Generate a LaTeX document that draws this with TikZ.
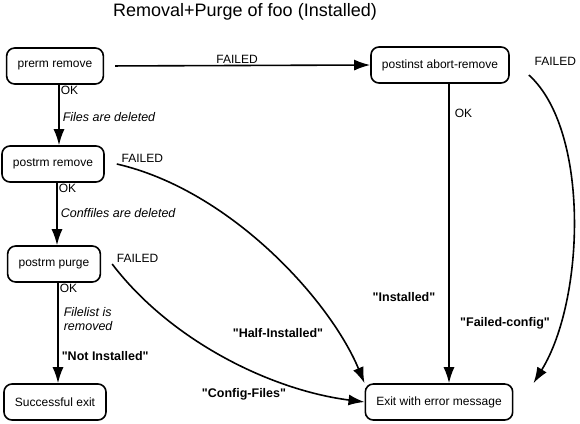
\documentclass[tikz,border=0pt]{standalone}
\usepackage{fontspec}
\setmainfont{Liberation Sans}[Ligatures=TeXOff]
\usetikzlibrary{arrows.meta}

\tikzset{
    state/.style={draw, line width=1.6pt, rounded corners=8pt,
        minimum height=36pt, inner xsep=11pt,
        font=\fontsize{12}{14}\selectfont},
    flow/.style={line width=1.6pt, -{Latex[length=16pt,width=11pt]}},
    lbl/.style={inner sep=1pt, font=\fontsize{12}{14}\selectfont},
    note/.style={inner sep=1pt, align=left,
        font=\fontsize{12.5}{14.5}\selectfont\itshape},
    status/.style={inner sep=1pt, font=\fontsize{12.5}{14}\selectfont\bfseries},
}

\begin{document}
\begin{tikzpicture}[x=1pt,y=-1pt]
                \useasboundingbox (0,0) rectangle (580,423);

                \node[lbl, font=\fontsize{18}{20}\selectfont] (title)
                    at (245,12) {Removal+Purge of foo (Installed)};

                \node[state] (prerm)    at (55,66)   {prerm remove};
                \node[state] (abort)    at (440,65)  {postinst abort-remove};
                \node[state] (rmremove) at (53,164)  {postrm remove};
                \node[state] (rmpurge)  at (54,264)  {postrm purge};
                \node[state] (success)  at (55,402)  {Successful exit};
                \node[state] (errexit)  at (439,402) {Exit with error message};

                \draw[flow, shorten <=11pt] (prerm.east) -- (abort.west)
                    node[lbl, midway, above] (f1) {FAILED};

                \draw[flow] ([xshift=4]prerm.south) -- ([xshift=4]prerm.south |- rmremove.north)
                    node[lbl, pos=0, anchor=north west] (ok1) {OK}
                    node[note, pos=0.53, anchor=west, xshift=2] (n1) {Files are deleted};
                \draw[flow] ([xshift=4]rmremove.south) -- ([xshift=4]rmremove.south |- rmpurge.north)
                    node[lbl, pos=0, anchor=north west] (ok2) {OK}
                    node[note, pos=0.48, anchor=west, xshift=2] (n2) {Conffiles are deleted};
                \draw[flow] ([xshift=4]rmpurge.south) -- ([xshift=4]rmpurge.south |- success.north)
                    node[lbl, pos=0, anchor=north west] (ok3) {OK}
                    node[note, pos=0.36, anchor=west, xshift=4] (n3) {Filelist is\\removed}
                    node[status, pos=0.73, anchor=west, xshift=2] (s1) {"Not Installed"};

                \draw[flow] ([xshift=9]abort.south) -- ([xshift=9]abort.south |- errexit.north)
                    node[lbl, pos=0.1, anchor=west, xshift=4] (ok4) {OK};

                \draw[flow] ([xshift=12]rmremove.east)
                    .. controls (230,190) and (330,300) .. (errexit.north west)
                    node[lbl, pos=0, anchor=south west, xshift=3] (f2) {FAILED};
                \draw[flow] ([xshift=11]rmpurge.east)
                    .. controls (170,340) and (270,390) .. (errexit.west)
                    node[lbl, pos=0, anchor=south west, xshift=3] (f3) {FAILED};
                \draw[flow] ([shift={(19,10)}]abort.east)
                    .. controls (590,130) and (585,300) .. ([xshift=20]errexit.north east)
                    node[lbl, pos=0, anchor=south west, shift={(4,-8)}] (f4) {FAILED};

                \node[status] (s2) at (278,333) {"Half-Installed"};
                \node[status] (s3) at (244,394) {"Config-Files"};
                \node[status] (s4) at (404,297) {"Installed"};
                \node[status] (s5) at (505,323) {"Failed-config"};
\end{tikzpicture}
\end{document}
